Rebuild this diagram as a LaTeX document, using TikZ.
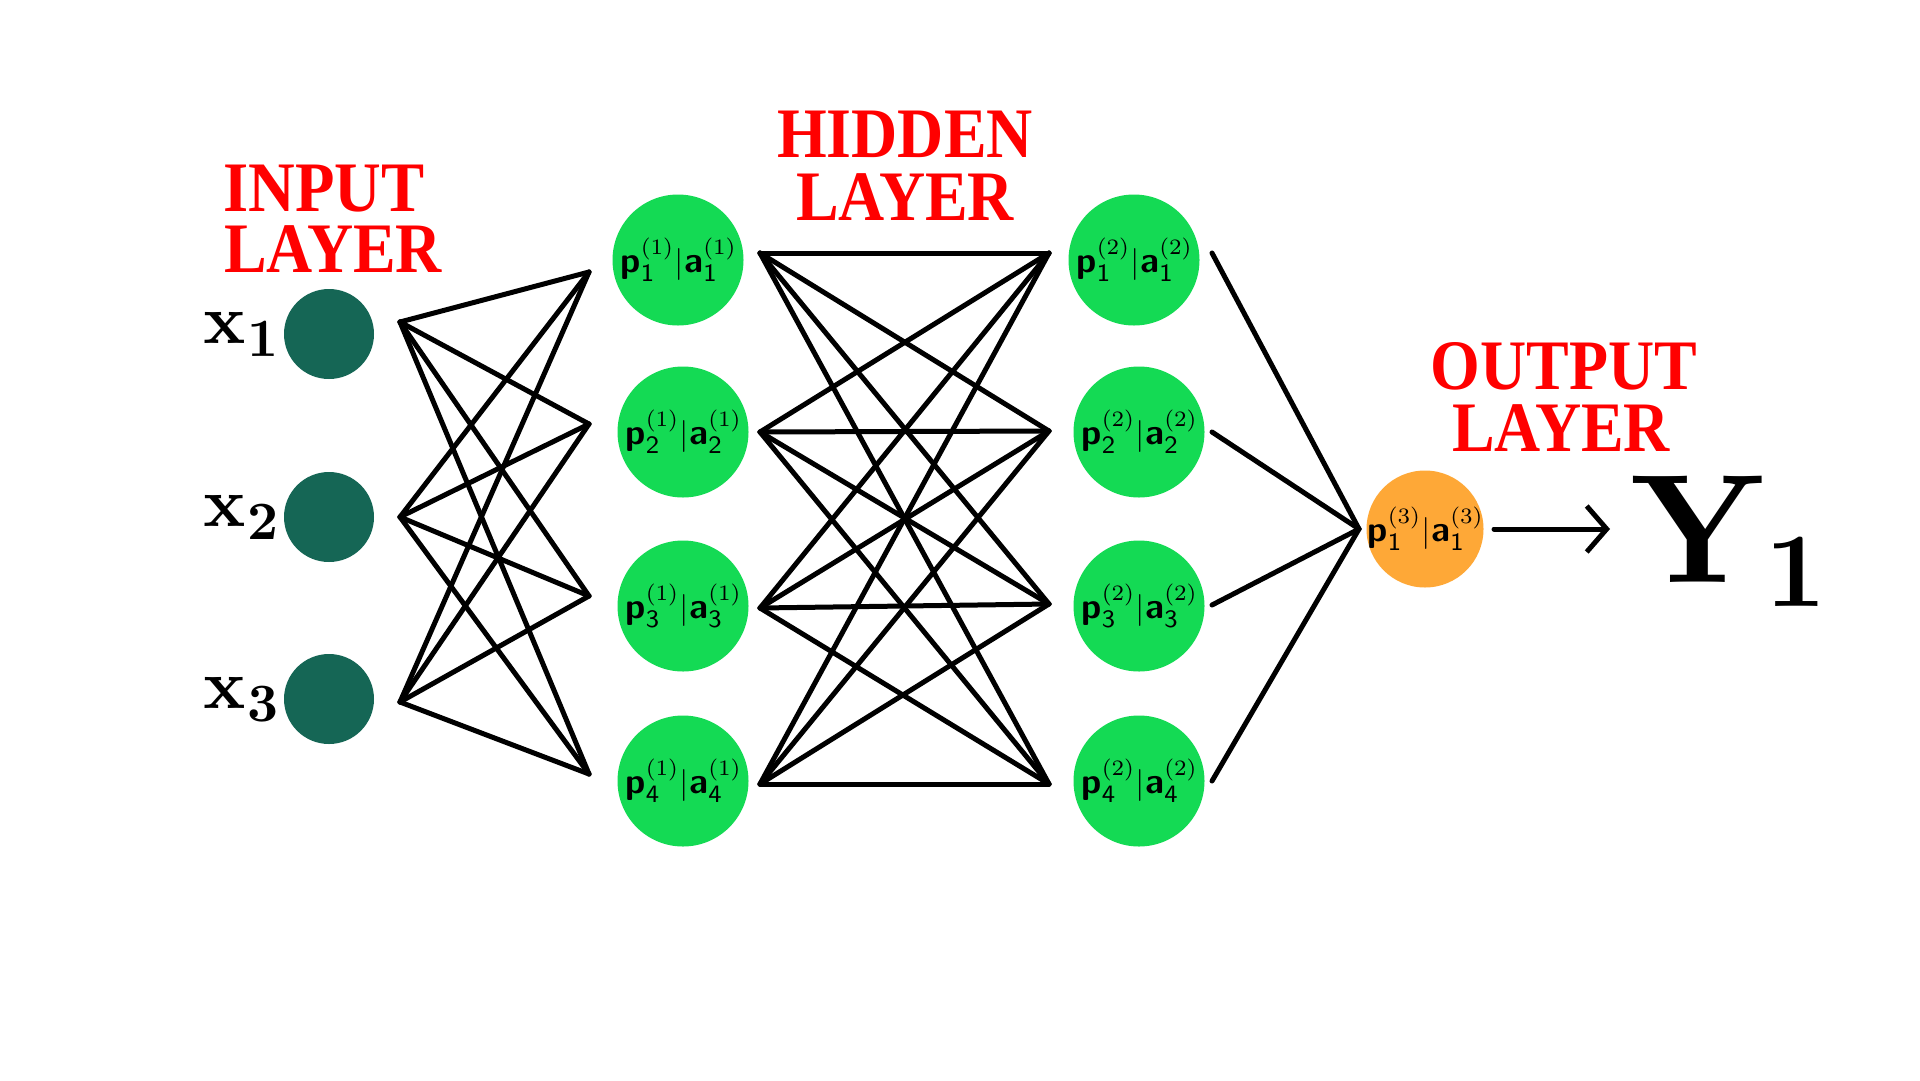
\documentclass[tikz,border=0pt]{standalone}
\usepackage{fontspec}
\usepackage{graphicx}
\newfontfamily\titlefont{Liberation Serif}
\newfontfamily\lmbf{lmroman10-bold.otf}
\newfontfamily\lmrg{lmroman10-regular.otf}
\newfontfamily\lmsev{lmroman7-regular.otf}
\newfontfamily\lmsbf{lmsans10-bold.otf}
\newfontfamily\lmsrg{lmsans8-regular.otf}
\usetikzlibrary{arrows.meta}
\definecolor{nodegreen}{RGB}{20,218,84}
\definecolor{inteal}{RGB}{21,102,85}
\definecolor{outorange}{RGB}{254,168,55}
\definecolor{titlered}{RGB}{255,0,0}
\newcommand\ssp[2]{\rlap{\raisebox{-9pt}{\fontsize{25}{25}\lmsrg #1}}\raisebox{18pt}{\fontsize{22}{22}\lmsev(#2)}}
\newcommand\palab[2]{{\fontsize{36}{36}\lmsbf p}\ssp{#1}{#2}\kern1.5pt{\fontsize{32}{32}\lmrg|}\kern1pt{\fontsize{36}{36}\lmsbf a}\ssp{#1}{#2}}
\newcommand\xlabel[1]{{\fontsize{70}{70}\lmbf x}\kern2pt\raisebox{-13pt}{\fontsize{54}{54}\lmbf #1}}
\tikzset{
  inp/.style={circle, fill=inteal, inner sep=0pt, minimum size=90pt},
  hid/.style={circle, fill=nodegreen, inner sep=0pt, minimum size=131pt},
  outn/.style={circle, fill=outorange, inner sep=0pt, minimum size=117pt},
  ttl/.style={text=titlered, font=\titlefont\bfseries\fontsize{71}{71}\selectfont, inner sep=0pt, anchor=base},
  xlab/.style={inner sep=0pt, anchor=base west},
  wire/.style={line width=5pt, line cap=round, line join=miter, black},
}
\begin{document}
\begin{tikzpicture}[x=1pt,y=-1pt]
\fill[white] (0,0) rectangle (1920,1080);
\useasboundingbox (0,0) rectangle (1920,1080);

% titles
\node[ttl] (tin1) at (324,211) {\scalebox{0.91}[1]{INPUT}};
\node[ttl] (tin2) at (333,272) {\scalebox{0.9}[1]{LAYER}};
\node[ttl] (thd1) at (905,157) {\scalebox{0.9}[1]{HIDDEN}};
\node[ttl] (thd2) at (905,220) {\scalebox{0.9}[1]{LAYER}};
\node[ttl] (tou1) at (1564,389) {\scalebox{0.9}[1]{OUTPUT}};
\node[ttl] (tou2) at (1561,451) {\scalebox{0.9}[1]{LAYER}};

% input layer
\node[inp] (I1) at (329,334) {};
\node[inp] (I2) at (329,517) {};
\node[inp] (I3) at (329,699) {};
\node[xlab] (L1) at (203,343) {\xlabel{1}};
\node[xlab] (L2) at (203,526) {\xlabel{2}};
\node[xlab] (L3) at (203,708) {\xlabel{3}};

% hidden layers
\node[hid] (A1) at (678,260) {\makebox[0pt]{\palab{1}{1}}};
\node[hid] (A2) at (683,432) {\makebox[0pt]{\palab{2}{1}}};
\node[hid] (A3) at (683,606) {\makebox[0pt]{\palab{3}{1}}};
\node[hid] (A4) at (683,781) {\makebox[0pt]{\palab{4}{1}}};
\node[hid] (B1) at (1134,260) {\makebox[0pt]{\palab{1}{2}}};
\node[hid] (B2) at (1139,432) {\makebox[0pt]{\palab{2}{2}}};
\node[hid] (B3) at (1139,606) {\makebox[0pt]{\palab{3}{2}}};
\node[hid] (B4) at (1139,781) {\makebox[0pt]{\palab{4}{2}}};

% output
\node[outn] (O) at (1425,529) {\makebox[0pt]{\palab{1}{3}}};
\node[inner sep=0pt, anchor=base west] (Y) at (1630,582)
  {{\fontsize{155}{155}\lmbf Y}\kern1pt\raisebox{-24pt}{\fontsize{106}{106}\lmbf 1}};

% connector end points
\coordinate (I1o) at (400,322);
\coordinate (I2o) at (400,517);
\coordinate (I3o) at (400,702);
\coordinate (A1i) at (589,272);
\coordinate (A2i) at (589,424);
\coordinate (A3i) at (589,596);
\coordinate (A4i) at (589,774);
\coordinate (A1o) at (760,253);
\coordinate (A2o) at (760,432);
\coordinate (A3o) at (760,608);
\coordinate (A4o) at (760,784);
\coordinate (B1i) at (1049,253);
\coordinate (B2i) at (1049,431);
\coordinate (B3i) at (1049,604);
\coordinate (B4i) at (1049,784);
\coordinate (B1o) at (1212,253);
\coordinate (B2o) at (1212,432);
\coordinate (B3o) at (1212,605);
\coordinate (B4o) at (1212,781);
\coordinate (Oi) at (1359,529);
\coordinate (Oo) at (1494,529);
\coordinate (Yi) at (1610,529);

% connectors
\foreach \i in {1,2,3}{
  \foreach \j in {1,2,3,4}{
    \draw[wire] (I\i o) -- (A\j i);
  }
}
\foreach \i in {1,2,3,4}{
  \foreach \j in {1,2,3,4}{
    \draw[wire] (A\i o) -- (B\j i);
  }
}
\foreach \i in {1,2,3,4}{
  \draw[wire] (B\i o) -- (Oi);
}
\draw[wire, -{Straight Barb[length=20pt,width=46pt,line width=5pt]}] (Oo) -- (Yi);
\end{tikzpicture}
\end{document}
